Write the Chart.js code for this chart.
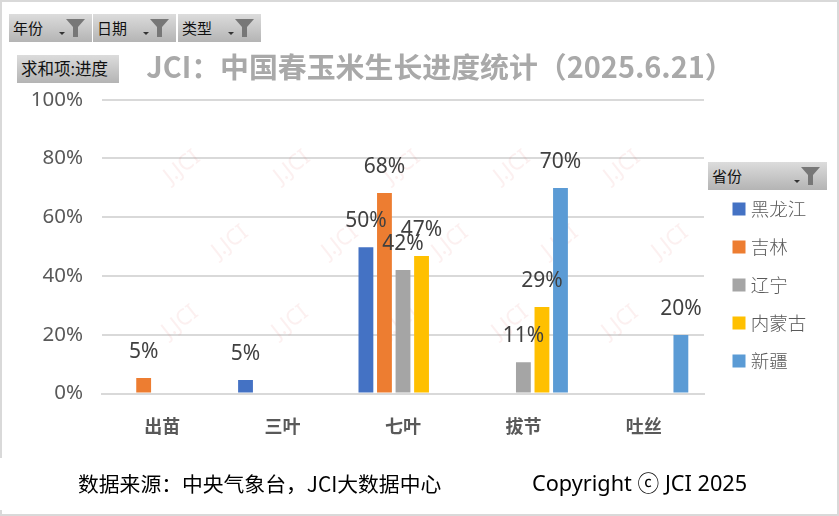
<!DOCTYPE html>
<html lang="zh-CN">
<head>
<meta charset="utf-8">
<title>JCI：中国春玉米生长进度统计</title>
<script src="https://cdn.jsdelivr.net/npm/chart.js@4"></script>
<style>
  html, body { margin: 0; padding: 0; background: #fff; }
  #page { position: relative; width: 839px; height: 516px; overflow: hidden; font-family: "Noto Sans CJK SC", sans-serif; }
  #frame { position: absolute; left: 0; top: 0; width: 835px; height: 512px; border: 2px solid #d9d9d9; }
  #patch { position: absolute; left: 0; top: 458px; width: 3px; height: 52px; background: #fff; }
  canvas { position: absolute; left: 0; top: 0; }
  .btn { position: absolute; height: 28px; line-height: 27px; font-size: 15px; color: #111; padding-left: 4px; box-sizing: border-box;
         background: linear-gradient(#dcdcdc, #b4b4b4); white-space: nowrap; }
  .btn svg { position: absolute; right: 0; top: 5px; }
  .foot { position: absolute; color: #000; white-space: nowrap; line-height: 30px; }
</style>
</head>
<body>
<div id="page">
  <div id="frame"></div>
  <div id="patch"></div>
  <canvas id="grafico" width="839" height="516"></canvas>
  <div class="foot" style="left:78px;top:468px;font-size:20.8px">数据来源：中央气象台，JCI大数据中心</div>
  <div class="foot" style="left:532px;top:468px;font-size:21.7px;font-family:'Noto Sans','Noto Sans CJK SC',sans-serif">Copyright ⓒ JCI 2025</div>
</div>
<script>
const categorias = ['出苗', '三叶', '七叶', '拔节', '吐丝'];
const heilongjiang = [null, 4.6, 49.8, null, null];
const jilin = [5.3, null, 68.2, null, null];
const liaoning = [null, null, 42, 10.6, null];
const neimenggu = [null, null, 46.8, 29.4, null];
const xinjiang = [null, null, null, 69.9, 19.9];
const yTicks = [0, 20, 40, 60, 80, 100];
const filtros = [['年份', 9, 83], ['日期', 93, 83], ['类型', 178, 83]];

const cinza = '#595959';
const fonte = '"Noto Sans", "Noto Sans CJK SC", sans-serif';

function criarBotao(texto, left, top, width, comFunil) {
  const b = document.createElement('div');
  b.className = 'btn';
  b.style.left = left + 'px';
  b.style.top = top + 'px';
  b.style.width = width + 'px';
  b.textContent = texto;
  if (comFunil) {
    b.insertAdjacentHTML('beforeend',
      '<svg width="33" height="18" viewBox="0 0 33 18">' +
      '<path d="M0 13h6l-3 3z" fill="#333"/>' +
      '<path d="M7 0h19l-7 8v10h-5v-10z" fill="#777"/></svg>');
  } else {
    b.style.fontSize = '16.5px';
  }
  document.getElementById('page').appendChild(b);
}
filtros.forEach(f => criarBotao(f[0], f[1], 14, f[2], true));
criarBotao('求和项:进度', 17, 55, 102, false);
criarBotao('省份', 708, 162, 119, true);

// marca d'agua JCI atras das barras
const marcaAgua = {
  id: 'marcaAgua',
  beforeDatasetsDraw(chart) {
    const ctx = chart.ctx;
    const linhas = [[167, 182], [242, 230], [322, 180]];
    ctx.save();
    ctx.font = '22px ' + fonte;
    ctx.fillStyle = 'rgba(225,120,120,0.11)';
    ctx.textAlign = 'center';
    ctx.textBaseline = 'middle';
    linhas.forEach(l => {
      for (let i = 0; i < 5; i++) {
        ctx.save();
        ctx.translate(l[1] + i * 110, l[0]);
        ctx.rotate(-38 * Math.PI / 180);
        ctx.fillText('J.JCI', 0, 0);
        ctx.restore();
      }
    });
    ctx.restore();
  }
};

// rotulos acima das barras
const rotulos = {
  id: 'rotulos',
  afterDatasetsDraw(chart) {
    const ctx = chart.ctx;
    ctx.save();
    ctx.font = '21px ' + fonte;
    ctx.fillStyle = '#404040';
    ctx.textAlign = 'center';
    ctx.textBaseline = 'middle';
    chart.data.datasets.forEach((ds, i) => {
      chart.getDatasetMeta(i).data.forEach((bar, j) => {
        if (ds.data[j] === null) return;
        ctx.fillText(Math.round(ds.data[j]) + '%', bar.x, bar.y - 26);
      });
    });
    ctx.restore();
  }
};

// legenda e titulo ficam fora do lugar padrao
const ajustes = {
  id: 'ajustes',
  afterLayout(chart) {
    const lg = chart.legend;
    const w = lg.width, h = lg.height;
    lg.left = 717;
    lg.right = lg.left + w;
    lg.top = 285 - h / 2;
    lg.bottom = lg.top + h;
    const t = chart.titleBlock;
    t.left += 37;
    t.right += 37;
    t.top = 50;
    t.bottom = 84;
  }
};

new Chart(document.getElementById('grafico'), {
  type: 'bar',
  data: {
    labels: categorias,
    datasets: [
      { label: '黑龙江', data: heilongjiang, backgroundColor: '#4472c4' },
      { label: '吉林', data: jilin, backgroundColor: '#ed7d31' },
      { label: '辽宁', data: liaoning, backgroundColor: '#a5a5a5' },
      { label: '内蒙古', data: neimenggu, backgroundColor: '#ffc000' },
      { label: '新疆', data: xinjiang, backgroundColor: '#5b9bd5' }
    ]
  },
  options: {
    responsive: false,
    animation: false,
    datasets: { bar: { categoryPercentage: 0.77, barPercentage: 0.8 } },
    layout: { padding: { left: 0, top: 65, right: 135, bottom: 0 } },
    scales: {
      x: {
        grid: { display: false },
        border: { color: '#d9d9d9', width: 2 },
        ticks: { color: cinza, font: { family: fonte, size: 18, weight: 'bold' }, padding: 16 },
        afterFit(s) { s.height = 122.5; }
      },
      y: {
        min: 0,
        max: 100,
        afterBuildTicks(s) { s.ticks = yTicks.map(v => ({ value: v })); },
        grid: { color: '#d9d9d9', lineWidth: 2, drawTicks: false },
        border: { display: false },
        ticks: { color: cinza, font: { family: fonte, size: 20.5 }, padding: 19, callback: v => v + '%' },
        afterFit(s) { s.width = 102; }
      }
    },
    plugins: {
      title: {
        display: true,
        text: 'JCI：中国春玉米生长进度统计（2025.6.21）',
        color: '#a9a9a9',
        fullSize: false,
        font: { family: '"Noto Sans CJK SC", sans-serif', size: 28.9, weight: 'bold' },
        padding: 0
      },
      legend: {
        position: 'chartArea',
        labels: {
          color: cinza,
          // caixa pequena com borda grossa: fica 13px e o texto mais perto
          boxWidth: 5,
          boxHeight: 5,
          padding: 19.5,
          font: { family: '"Noto Sans CJK SC", sans-serif', size: 18.5, weight: '300' },
          generateLabels: c => Chart.defaults.plugins.legend.labels.generateLabels(c)
            .map(item => ({ ...item, lineWidth: 8, strokeStyle: item.fillStyle }))
        }
      },
      tooltip: { enabled: false }
    }
  },
  plugins: [marcaAgua, rotulos, ajustes]
});
</script>
</body>
</html>
